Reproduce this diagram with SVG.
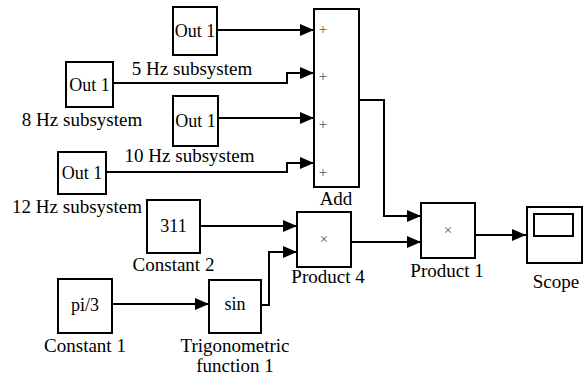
<svg xmlns="http://www.w3.org/2000/svg" width="583" height="379" viewBox="0 0 583 379">
<style>
.b{fill:#fff;stroke:#000;stroke-width:2}
.t{font-size:19px;fill:#000;text-anchor:middle}
.i{font-size:18px;fill:#000;text-anchor:middle}
.s{font-size:15px;fill:#555;text-anchor:middle}
.c{fill:none;stroke:#000;stroke-width:2}
</style>
<defs>
<marker id="a" markerWidth="14" markerHeight="12" refX="14" refY="6" orient="auto" markerUnits="userSpaceOnUse">
<path d="M0,0 L14,6 L0,12 Z" fill="#000"/>
</marker>
</defs>
<rect width="583" height="379" fill="#fff"/>
<g id="connectors">
<path class="c" d="M217,30 H314" marker-end="url(#a)"/>
<path class="c" d="M113,83 H287 V73 H314" marker-end="url(#a)"/>
<path class="c" d="M218,118 H314" marker-end="url(#a)"/>
<path class="c" d="M106,172 H287 V163 H314" marker-end="url(#a)"/>
<path class="c" d="M359,100 H384 V216 H421" marker-end="url(#a)"/>
<path class="c" d="M200,226 H297" marker-end="url(#a)"/>
<path class="c" d="M261,305 H269 V252 H297" marker-end="url(#a)"/>
<path class="c" d="M112,304 H209" marker-end="url(#a)"/>
<path class="c" d="M351,242 H421" marker-end="url(#a)"/>
<path class="c" d="M475,235 H526" marker-end="url(#a)"/>
</g>
<g font-family="'Liberation Serif', 'Times New Roman', 'DejaVu Serif', serif">
<g id="out1_top">
<rect class="b" x="173" y="7" width="44" height="48"/>
<text class="i" x="195" y="37">Out 1</text>
</g>
<g id="sub5hz">
<rect class="b" x="66" y="62" width="47" height="45"/>
<text class="i" x="89.5" y="91">Out 1</text>
<text class="t" x="192" y="75">5 Hz subsystem</text>
<text class="t" x="82" y="126">8 Hz subsystem</text>
</g>
<g id="out1_mid">
<rect class="b" x="173" y="96" width="45" height="50"/>
<text class="i" x="195.5" y="127">Out 1</text>
</g>
<g id="sub10hz">
<rect class="b" x="58" y="152" width="48" height="42"/>
<text class="i" x="82" y="179">Out 1</text>
<text class="t" x="189.5" y="162">10 Hz subsystem</text>
<text class="t" x="77" y="213">12 Hz subsystem</text>
</g>
<g id="add">
<rect class="b" x="314" y="9" width="45" height="178"/>
<text class="s" x="323" y="34">+</text>
<text class="s" x="323" y="81">+</text>
<text class="s" x="323" y="129">+</text>
<text class="s" x="323" y="177">+</text>
<text class="t" x="336" y="205">Add</text>
</g>
<g id="constant2">
<rect class="b" x="147" y="200" width="53" height="53"/>
<text class="i" x="173.5" y="232">311</text>
<text class="t" x="173.5" y="271">Constant 2</text>
</g>
<g id="constant1">
<rect class="b" x="58" y="279" width="54" height="54"/>
<text class="i" x="85" y="311">pi/3</text>
<text class="t" x="85" y="352">Constant 1</text>
</g>
<g id="trig">
<rect class="b" x="209" y="280" width="52" height="53"/>
<text class="i" x="235" y="310">sin</text>
<text class="t" x="235" y="352">Trigonometric</text>
<text class="t" x="235" y="372">function 1</text>
</g>
<g id="product4">
<rect class="b" x="297" y="212" width="54" height="55"/>
<text class="s" x="324" y="244">×</text>
<text class="t" x="328" y="283">Product 4</text>
</g>
<g id="product1">
<rect class="b" x="421" y="203" width="54" height="55"/>
<text class="s" x="448" y="235">×</text>
<text class="t" x="447" y="277">Product 1</text>
</g>
<g id="scope">
<rect class="b" x="527" y="207" width="55" height="56"/>
<rect class="b" x="534" y="214" width="39" height="22"/>
<text class="t" x="556" y="288">Scope</text>
</g>
</g>
</svg>
